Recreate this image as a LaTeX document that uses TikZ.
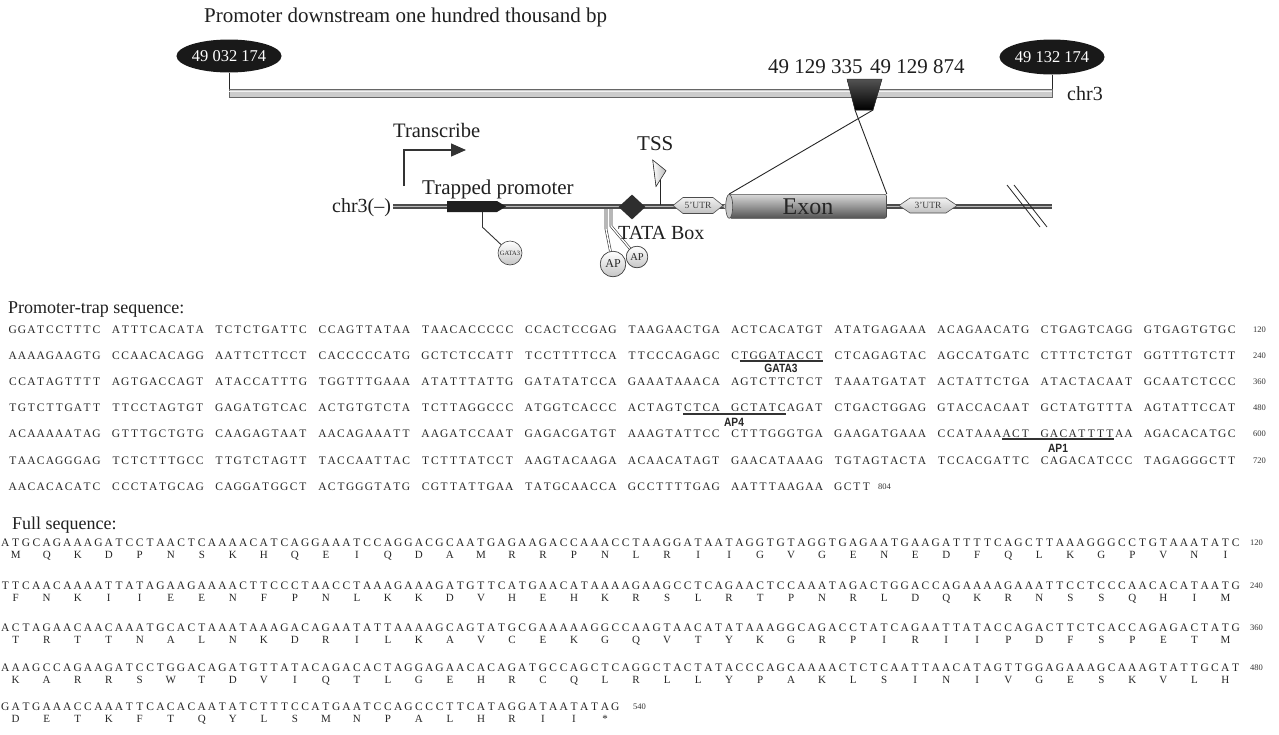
\documentclass[tikz,border=0pt]{standalone}
\usepackage{fontspec}
\setmainfont{Liberation Serif}
\newfontfamily\tfbfont[FakeStretch=0.85]{Liberation Sans}
\usetikzlibrary{arrows.meta,shapes.geometric}

\def\sqpitch{9.3pt}
\def\sqloop#1{\ifx#1\relax\else\hbox to \sqpitch{\hss#1\hss}\expandafter\sqloop\fi}
\newcommand\sqx[1]{\sqloop#1\relax}
\newcommand\grp[1]{\hbox to 103.2pt{\sqx{#1}\hss}}
\newcommand\dna[1]{{\def\sqpitch{10.34pt}\sqx{#1}}}
\newcommand\aas[1]{{\def\sqpitch{31.02pt}\sqx{#1}}}

\tikzset{
  txt/.style={inner sep=0, anchor=base west, text=black!88},
  f21/.style={font=\fontsize{21}{25}\selectfont},
  prow/.style={inner sep=0, anchor=west, text=black!85, font=\fontsize{11.5}{13}\selectfont},
  frow/.style={inner sep=0, anchor=west, text=black!85, font=\fontsize{11.5}{13}\selectfont},
  arow/.style={inner sep=0, anchor=base west, text=black!85, font=\fontsize{11}{13}\selectfont},
  num/.style={inner sep=0, anchor=west, text=black!80, font=\fontsize{8.5}{10}\selectfont},
  tfl/.style={inner sep=0, anchor=base, text=black!85, font=\tfbfont\bfseries\fontsize{12}{13}\selectfont},
  uline/.style={line width=1.3pt, black!80},
  posell/.style={ellipse, fill=black!90, text=white, inner sep=0, font=\fontsize{16.5}{18}\selectfont},
  tfcirc/.style={circle, draw=black!75, line width=0.6pt, top color=white, bottom color=gray!45, inner sep=0, text=black!85},
  apline/.style={draw=black!80, line width=0.6pt, double=white, double distance=1.4pt},
  thin/.style={draw=black!85, line width=0.9pt},
  utr/.style={draw=black!70, line width=0.6pt, top color=gray!10, bottom color=gray!50},
}

\begin{document}
\begin{tikzpicture}[x=1pt,y=-1pt]
\useasboundingbox (0,0) rectangle (1279,734);

% ---------- top chromosome ----------
\node[txt,f21] (title) at (204,22) {Promoter downstream one hundred thousand bp};
\coordinate (bl) at (229,93);
\coordinate (br) at (1052,93);
\fill[gray!40, draw=black!60, line width=0.7pt] (229,89) rectangle (1052,97);
\draw[gray!10, line width=1.4pt] (229,91.3) -- (1052,91.3);
\node[posell, minimum width=79, minimum height=33] (e1) at (229,56) {49 032 174};
\node[posell, minimum width=94, minimum height=35] (e2) at (1052,57) {49 132 174};
\draw[thin] (e1.south) -- (bl |- 0,89);
\draw[thin] (e2.south) -- (br |- 0,89);
\node[txt,font=\fontsize{20}{24}\selectfont] (chr) at (1067,100) {chr3};
\node[txt,f21] (p335) at (768,73) {49 129 335};
\node[txt,f21] (p874) at (870,73) {49 129 874};
\fill[top color=gray!65!black, bottom color=black, draw=black!80, line width=0.5pt]
  (847,79) -- (882,79) -- (873,110) -- (855,110) -- cycle;
\coordinate (tzl) at (855,110);
\coordinate (tzr) at (873,110);

% ---------- gene model ----------
\node[txt,font=\fontsize{20}{24}\selectfont] (chrm) at (332,212) {chr3(–)};
\coordinate (mend) at (1052,206.5);
\draw[black!70, line width=4.6pt] (393,206.5) -- (mend);
\draw[gray!55, line width=1.2pt] (393,206.5) -- (mend);

% transcribe arrow
\coordinate (ta) at (404,186);
\coordinate (tb) at (466,150);
\draw[black!80, line width=1.3pt, -{Triangle[length=15pt,width=13pt]}] (ta) |- (tb);
\node[txt,font=\fontsize{20.5}{24}\selectfont] (trn) at (393,137) {Transcribe};

% trapped promoter arrow
\fill[black!88] (447,201) -- (497,201) -- (506,206.5) -- (497,212) -- (447,212) -- cycle;
\node[inner sep=0, minimum width=59, minimum height=11] (tp) at (476.5,206.5) {};
\node[txt,f21] (tpl) at (422,194) {Trapped promoter};
\node[tfcirc, minimum size=24, font=\fontsize{6.5}{7}\selectfont] (gata) at (510,253) {GATA3};
\draw[black!80, line width=0.9pt] ([xshift=6]tp.south) -- ++(0,15) -- (gata);

% AP sites
\coordinate (s1) at (606,209);
\coordinate (s2) at (611,209);
\node[tfcirc, minimum size=25.5, font=\fontsize{12}{13}\selectfont] (ap1) at (613,264) {AP};
\node[tfcirc, minimum size=21.5, font=\fontsize{10.5}{12}\selectfont] (ap2) at (637,257) {AP};
\draw[apline] (s1) -- (606,229) -- (ap1);
\draw[apline] (s2) -- (611,226) -- (ap2);
\node[tfcirc, minimum size=25.5, font=\fontsize{12}{13}\selectfont] at (613,264) {AP};
\node[tfcirc, minimum size=21.5, font=\fontsize{10.5}{12}\selectfont] at (637,257) {AP};

% TATA box
\node[diamond, fill=black!82, minimum width=27, minimum height=25, inner sep=0] (tata) at (632,207) {};
\node[txt,font=\fontsize{20}{24}\selectfont] (tatal) at (618,239) {TATA Box};

% TSS
\coordinate (tssb) at (660,205);
\coordinate (tsst) at (660,180);
\draw[black!85, line width=0.9pt] (tssb) -- (tsst);
\filldraw[left color=white, right color=gray!55, draw=black!80, line width=0.6pt]
  (652.7,160) -- (666,170.7) -- (656,186.5) -- cycle;
\node[txt,f21] (tss) at (637,150) {TSS};

% 5'UTR
\path[utr] (673,205.5) -- (683,197.5) -- (713,197.5) -- (723,205.5) -- (713,213.5) -- (683,213.5) -- cycle;
\node[inner sep=0, text=black!75, font=\fontsize{9.5}{11}\selectfont] (u5) at (698,205.5) {5'UTR};
\filldraw[fill=gray!40, draw=black!70, line width=0.5pt] (725.5,206.5) circle (2.5);

% exon
\node[draw=black!70, line width=0.6pt, rounded corners=2pt, top color=gray!30, bottom color=gray!65!black,
      minimum width=157, minimum height=24, inner sep=0, font=\fontsize{24}{28}\selectfont, text=black!85]
      (exon) at (808,206.3) {Exon};
\filldraw[fill=gray!45, draw=black!70, line width=0.6pt] (exon.west) ellipse (3.5 and 12);
\draw[thin] (exon.north west) -- (tzr);
\draw[thin] (exon.north east) -- (tzl);

% 3'UTR
\path[utr] (899,205.5) -- (910,198) -- (946,198) -- (957,205.5) -- (946,213) -- (910,213) -- cycle;
\node[inner sep=0, text=black!75, font=\fontsize{9.5}{11}\selectfont] (u3) at (928,205.5) {3'UTR};

% break mark
\coordinate (k1) at (1007,185); \coordinate (k2) at (1040,227);
\coordinate (k3) at (1014,185); \coordinate (k4) at (1047,227);
\draw[black!85, line width=0.8pt] (k1) -- (k2);
\draw[black!85, line width=0.8pt] (k3) -- (k4);

% ---------- promoter-trap sequence ----------
\node[txt,font=\fontsize{18}{21}\selectfont] (pth) at (8,313) {Promoter-trap sequence:};
\node[prow] (p1) at (8,330) {\grp{GGATCCTTTC}\grp{ATTTCACATA}\grp{TCTCTGATTC}\grp{CCAGTTATAA}\grp{TAACACCCCC}\grp{CCACTCCGAG}\grp{TAAGAACTGA}\grp{ACTCACATGT}\grp{ATATGAGAAA}\grp{ACAGAACATG}\grp{CTGAGTCAGG}\grp{GTGAGTGTGC}};
\node[prow] (p2) at (8,356) {\grp{AAAAGAAGTG}\grp{CCAACACAGG}\grp{AATTCTTCCT}\grp{CACCCCCATG}\grp{GCTCTCCATT}\grp{TCCTTTTCCA}\grp{TTCCCAGAGC}\grp{CTGGATACCT}\grp{CTCAGAGTAC}\grp{AGCCATGATC}\grp{CTTTCTCTGT}\grp{GGTTTGTCTT}};
\node[prow] (p3) at (8,382) {\grp{CCATAGTTTT}\grp{AGTGACCAGT}\grp{ATACCATTTG}\grp{TGGTTTGAAA}\grp{ATATTTATTG}\grp{GATATATCCA}\grp{GAAATAAACA}\grp{AGTCTTCTCT}\grp{TAAATGATAT}\grp{ACTATTCTGA}\grp{ATACTACAAT}\grp{GCAATCTCCC}};
\node[prow] (p4) at (8,408) {\grp{TGTCTTGATT}\grp{TTCCTAGTGT}\grp{GAGATGTCAC}\grp{ACTGTGTCTA}\grp{TCTTAGGCCC}\grp{ATGGTCACCC}\grp{ACTAGTCTCA}\grp{GCTATCAGAT}\grp{CTGACTGGAG}\grp{GTACCACAAT}\grp{GCTATGTTTA}\grp{AGTATTCCAT}};
\node[prow] (p5) at (8,434) {\grp{ACAAAAATAG}\grp{GTTTGCTGTG}\grp{CAAGAGTAAT}\grp{AACAGAAATT}\grp{AAGATCCAAT}\grp{GAGACGATGT}\grp{AAAGTATTCC}\grp{CTTTGGGTGA}\grp{GAAGATGAAA}\grp{CCATAAAACT}\grp{GACATTTTAA}\grp{AGACACATGC}};
\node[prow] (p6) at (8,461) {\grp{TAACAGGGAG}\grp{TCTCTTTGCC}\grp{TTGTCTAGTT}\grp{TACCAATTAC}\grp{TCTTTATCCT}\grp{AAGTACAAGA}\grp{ACAACATAGT}\grp{GAACATAAAG}\grp{TGTAGTACTA}\grp{TCCACGATTC}\grp{CAGACATCCC}\grp{TAGAGGGCTT}};
\node[prow] (p7) at (8,487) {\grp{AACACACATC}\grp{CCCTATGCAG}\grp{CAGGATGGCT}\grp{ACTGGGTATG}\grp{CGTTATTGAA}\grp{TATGCAACCA}\grp{GCCTTTTGAG}\grp{AATTTAAGAA}\sqx{GCTT}};
\node[num] (n1) at (1253,330) {120};
\node[num] (n2) at (1253,356) {240};
\node[num] (n3) at (1253,382) {360};
\node[num] (n4) at (1253,408) {480};
\node[num] (n5) at (1253,434) {600};
\node[num] (n6) at (1253,461) {720};
\node[num] (n7) at (878,487) {804};

% motif underlines
\draw[uline] (739.7,361) -- (823.4,361);
\node[tfl] (lg) at (781,372.5) {GATA3};
\draw[uline] (683,414) -- (786,414);
\node[tfl] (l4) at (734,426.5) {AP4};
\draw[uline] (1002,439) -- (1114,439);
\node[tfl] (l1) at (1058,452.5) {AP1};

% ---------- full sequence ----------
\node[txt,font=\fontsize{18}{21}\selectfont] (fsh) at (12,529) {Full sequence:};
\node[frow] (f1) at (0,543) {\dna{ATG CAG AAA GAT CCT AAC TCA AAA CAT CAG GAA ATC CAG GAC GCA ATG AGA AGA CCA AAC CTA AGG ATA ATA GGT GTA GGT GAG AAT GAA GAT TTT CAG CTT AAA GGG CCT GTA AAT ATC}};
\node[arow] (a1) at (0,558.7) {\aas{MQKDPNSKHQEIQDAMRRPNLRIIGVGENEDFQLKGPVNI}};
\node[frow] (f2) at (0,586) {\dna{TTC AAC AAA ATT ATA GAA GAA AAC TTC CCT AAC CTA AAG AAA GAT GTT CAT GAA CAT AAA AGA AGC CTC AGA ACT CCA AAT AGA CTG GAC CAG AAA AGA AAT TCC TCC CAA CAC ATA ATG}};
\node[arow] (a2) at (0,601.7) {\aas{FNKIIEENFPNLKKDVHEHKRSLRTPNRLDQKRNSSQHIM}};
\node[frow] (f3) at (0,628) {\dna{ACT AGA ACA ACA AAT GCA CTA AAT AAA GAC AGA ATA TTA AAA GCA GTA TGC GAA AAA GGC CAA GTA ACA TAT AAA GGC AGA CCT ATC AGA ATT ATA CCA GAC TTC TCA CCA GAG ACT ATG}};
\node[arow] (a3) at (0,643.7) {\aas{TRTTNALNKDRILKAVCEKGQVTYKGRPIRIIPDFSPETM}};
\node[frow] (f4) at (0,668) {\dna{AAA GCC AGA AGA TCC TGG ACA GAT GTT ATA CAG ACA CTA GGA GAA CAC AGA TGC CAG CTC AGG CTA CTA TAC CCA GCA AAA CTC TCA ATT AAC ATA GTT GGA GAA AGC AAA GTA TTG CAT}};
\node[arow] (a4) at (0,683.7) {\aas{KARRSWTDVIQTLGEHRCQLRLLYPAKLSINIVGESKVLH}};
\node[frow] (f5) at (0,707) {\dna{GAT GAA ACC AAA TTC ACA CAA TAT CTT TCC ATG AAT CCA GCC CTT CAT AGG ATA ATA TAG}};
\node[arow] (a5) at (0,722.7) {\aas{DETKFTQYLSMNPALHRII*}};
\node[num] (m1) at (1250,543) {120};
\node[num] (m2) at (1250,586) {240};
\node[num] (m3) at (1250,628) {360};
\node[num] (m4) at (1250,668) {480};
\node[num] (m5) at (633,707) {540};
\end{tikzpicture}
\end{document}
